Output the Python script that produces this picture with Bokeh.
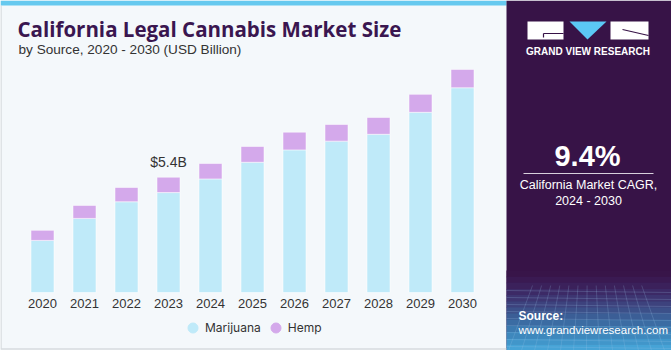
from bokeh.plotting import figure
from bokeh.models import ColumnDataSource, Range1d, Legend, LegendItem
from bokeh.core.properties import value
from bokeh.embed import file_html
from bokeh.resources import INLINE

# ---------------- data ----------------
years = [2020, 2021, 2022, 2023, 2024, 2025, 2026, 2027, 2028, 2029, 2030]
year_labels = [str(y) for y in years]
marijuana = [2.44, 3.47, 4.25, 4.68, 5.32, 6.10, 6.68, 7.09, 7.41, 8.44, 9.59]
hemp = [0.47, 0.61, 0.67, 0.72, 0.72, 0.74, 0.83, 0.78, 0.79, 0.84, 0.86]
series = ["Marijuana", "Hemp"]
colors = ["#bfeaf9", "#d4a9eb"]
highlight_year = 2023
title = "California Legal Cannabis Market Size"
subtitle = "by Source, 2020 - 2030 (USD Billion)"
cagr = "9.4%"
cagr_lines = ["California Market CAGR,", "2024 - 2030"]

# ---------------- layout ----------------
W, H = 671, 350
BASE = 292          # baseline pixel (from top)
PPU = 21.35         # pixels per USD billion
X0 = 42             # pixel centre of first year
STEP = 42           # pixels per year

def ypix(py):
    return (BASE - py) / PPU

p = figure(width=W, height=H, output_backend="svg", toolbar_location=None,
           x_range=Range1d(years[0] - X0 / STEP, years[0] + (W - X0) / STEP),
           y_range=Range1d(-(H - BASE) / PPU, BASE / PPU),
           min_border=0, min_border_left=0, min_border_right=0,
           min_border_top=0, min_border_bottom=0)
p.axis.visible = False
p.grid.visible = False
p.outline_line_color = None
p.background_fill_color = "#f4f8fb"
p.border_fill_color = "#f4f8fb"

p.extra_x_ranges["px"] = Range1d(0, W)
p.extra_y_ranges["px"] = Range1d(H, 0)
PX = dict(x_range_name="px", y_range_name="px")

# decorations: stripe, right panel
p.quad(left=0, right=506, top=0, bottom=5, color="#66c9ef", line_color=None, **PX)
p.quad(left=506, right=W, top=0, bottom=H, color="#371347", line_color=None, **PX)
grad = ["#381549", "#3a1a52", "#3b215b", "#3c2a66", "#3d3571", "#3d427d",
        "#3c5089", "#3b5e96", "#3b6ca3", "#3c7ab0", "#3e88bd", "#4196ca", "#46a3d6"]
step = 80 / len(grad)
for i, c in enumerate(grad):
    p.quad(left=506, right=W, top=270 + i * step, bottom=270 + (i + 1) * step + 0.5,
           color=c, line_color=None, **PX)
# faint grid texture
for k in range(9):
    yy = 290 + k * 7
    p.line(x=[506, W], y=[yy, yy + 2], line_color="#9cc2e8", line_alpha=0.22, line_width=1, **PX)
for k in range(13):
    xx = 508 + k * 13
    p.line(x=[588 + (xx - 588) * 0.7, xx], y=[285, 350], line_color="#9cc2e8",
           line_alpha=0.22, line_width=1, **PX)

# borders
p.line(x=[0.5, 0.5], y=[5, 348], line_color="#c9cdd1", line_width=1, **PX)
p.line(x=[0, 506], y=[348.5, 348.5], line_color="#c9cdd1", line_width=1, **PX)

# logo
p.quad(left=527, right=563, top=21, bottom=39, color="white", line_color=None, **PX)
p.line(x=[543, 563], y=[33, 33], line_color="#371347", line_width=1.2, **PX)
p.line(x=[543, 543], y=[33, 37], line_color="#371347", line_width=1.2, **PX)
p.patch(x=[569, 606, 587], y=[21, 21, 39], color="#5bc8f5", line_color=None, **PX)
p.quad(left=610, right=648, top=21, bottom=39, color="white", line_color=None, **PX)
p.line(x=[622, 648], y=[29, 35], line_color="#371347", line_width=1.2, **PX)
p.text(x=[587.5], y=[51], text=["GRAND VIEW RESEARCH"], text_color="white",
       text_font=value("Liberation Sans"), text_font_style="bold", text_font_size="10px",
       text_align="center", text_baseline="middle", **PX)

# right panel texts
p.text(x=[587], y=[155], text=[cagr], text_color="white", text_font=value("Liberation Sans"),
       text_font_style="bold", text_font_size="29px", text_align="center",
       text_baseline="middle", **PX)
p.line(x=[523, 653], y=[173, 173], line_color="#d8d0dc", line_width=1, **PX)
p.text(x=[588, 588], y=[184, 200], text=cagr_lines, text_color="white",
       text_font=value("Liberation Sans"), text_font_size="12.5px", text_align="center",
       text_baseline="middle", **PX)
p.text(x=[518], y=[315], text=["Source:"], text_color="white", text_font=value("Liberation Sans"),
       text_font_style="bold", text_font_size="12px", text_baseline="middle", **PX)
p.text(x=[518], y=[329], text=["www.grandviewresearch.com"], text_color="white",
       text_font=value("Liberation Sans"), text_font_size="11.5px", text_baseline="middle", **PX)

# title
p.text(x=[17], y=[28.5], text=[title], text_color="#3a1650", text_font=value("Open Sans"),
       text_font_style="bold", text_font_size="20.5px", text_baseline="middle", **PX)
p.text(x=[18], y=[49], text=[subtitle], text_color="#333333", text_font=value("Liberation Sans"),
       text_font_size="13.6px", text_baseline="middle", **PX)

# bars
src = ColumnDataSource(dict(year=years, Marijuana=marijuana, Hemp=hemp,
                            label=year_labels,
                            total=[m + h for m, h in zip(marijuana, hemp)]))
p.vbar_stack(series, x="year", width=23 / STEP, color=colors, line_color="white",
             line_alpha=0.5, line_width=1, source=src)

# year labels
p.text(x="year", y=ypix(303), text="label", source=src, text_color="#333333",
       text_font=value("Liberation Sans"), text_font_size="13px", text_align="center",
       text_baseline="middle")

# highlight label
hi = years.index(highlight_year)
tot = marijuana[hi] + hemp[hi]
p.text(x=[highlight_year], y=[tot + 15 / PPU], text=[f"${tot:.1f}B"], text_color="#333333",
       text_font=value("Liberation Sans"), text_font_size="14px", text_align="center",
       text_baseline="middle")

# legend (glyph-only renderers with no visible points)
items = []
for name, c in zip(series, colors):
    r = p.scatter(x=[float("nan")], y=[float("nan")], size=10, marker="circle",
                  fill_color=c, line_color=c)
    items.append(LegendItem(label=name, renderers=[r]))
legend = Legend(items=items, orientation="horizontal", location=(180, 10),
                background_fill_alpha=0, border_line_color=None, padding=0, margin=0,
                glyph_width=25, glyph_height=25, label_height=14, label_standoff=0,
                spacing=2, label_text_font="Inter", label_text_font_size="12px",
                label_text_color="#333333")
p.add_layout(legend)

open("out.html", "w").write(file_html(p, INLINE))
